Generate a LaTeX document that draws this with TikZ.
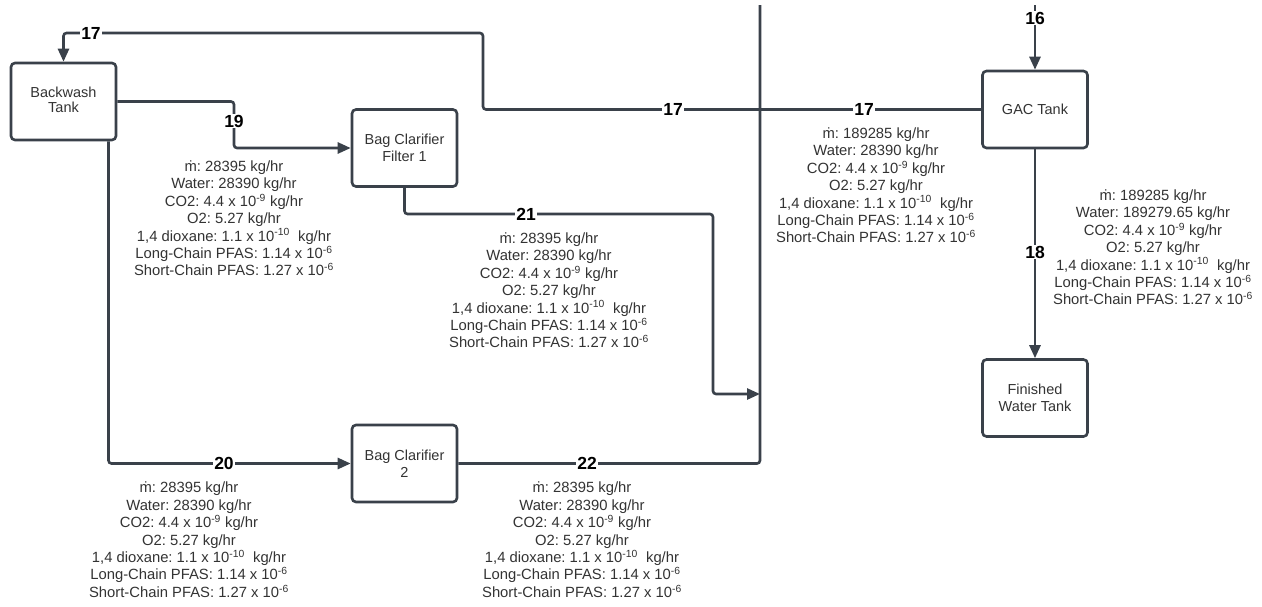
\documentclass[tikz,border=0pt]{standalone}
\usepackage{fontspec}
\setmainfont{Liberation Sans}
\usetikzlibrary{arrows.meta}
\frenchspacing
\definecolor{ln}{HTML}{3A414A}
\definecolor{tx}{HTML}{333333}
\newcommand\streamtext[2]{ṁ: #1 kg/hr\\Water: #2 kg/hr\\CO2: 4.4 x 10\textsuperscript{-9} kg/hr\\O2: 5.27 kg/hr\\1,4 dioxane: 1.1 x 10\textsuperscript{-10}~ kg/hr\\Long-Chain PFAS: 1.14 x 10\textsuperscript{-6}\\Short-Chain PFAS: 1.27 x 10\textsuperscript{-6}}
\begin{document}
\begin{tikzpicture}[x=1pt,y=-1pt,
  box/.style={draw=ln, line width=2.6pt, rounded corners=4pt, minimum width=105pt, minimum height=77pt, inner sep=0pt, align=center, font=\fontsize{14.5}{16.5}\selectfont, text=tx},
  flow/.style={draw=ln, line width=2.6pt, rounded corners=3pt},
  arr/.style={-{Triangle[length=13pt,width=11pt]}},
  info/.style={align=center, font=\fontsize{14.8}{17.4}\selectfont, text=tx, inner sep=0pt, anchor=north},
  num/.style={font=\bfseries\fontsize{17.5}{17.5}\selectfont, fill=white, inner sep=1pt, text=black}]
\useasboundingbox[fill=white] (0,0) rectangle (1262,606);

% units
\node[box] (bw)  at (63.5,101.5) {\raisebox{3pt}{\begin{tabular}{@{}c@{}}Backwash\\[-1pt]Tank\end{tabular}}};
\node[box] (bc1) at (404.5,148)  {Bag Clarifier\\Filter 1};
\node[box] (bc2) at (404.5,463.5) {Bag Clarifier\\2};
\node[box] (gac) at (1035,109.5) {GAC Tank};
\node[box] (fwt) at (1035,398)  {Finished\\Water Tank};

% coordinates
\coordinate (top16) at (1035,5);
\coordinate (top22) at (760,5);
\coordinate (c22) at (760,463.5);
\coordinate (j21) at (760,394);

% connectors
\draw[flow,arr] (gac.west) -- (483,109.5) -- (483,33) -- (bw.north |- 0,33) -- (bw.north);
\draw[flow,arr] (bw.east) -- (234,101.5) -- (234,148) -- (bc1.west);
\draw[flow,arr] ([xshift=45pt]bw.south) -- ([xshift=45pt]bw.south |- bc2.west) -- (bc2.west);
\draw[flow,arr] (bc1.south) -- (404.5,214) -- (713,214) -- (713,394) -- (j21);
\draw[flow] (bc2.east) -- (c22) -- (top22);
\draw[flow,arr] (top16) -- (gac.north);
\draw[flow,arr] (gac.south) -- (fwt.north);

% stream numbers
\node[num] (n17a) at (91,33) {17};
\node[num] (n19)  at (234,121) {19};
\node[num] (n17b) at (673,109.5) {17};
\node[num] (n17c) at (864,109.5) {17};
\node[num] (n16)  at (1035,18) {16};
\node[num] (n21)  at (526,214) {21};
\node[num] (n20)  at (224,463.5) {20};
\node[num] (n22)  at (587,463.5) {22};
\node[num] (n18)  at (1035,252) {18};

% stream data
\node[info] (dA) at (234,160.5) {\streamtext{28395}{28390}};
\node[info] (dB) at (549,232.5) {\streamtext{28395}{28390}};
\node[info] (dC) at (876,127.5) {\streamtext{189285}{28390}};
\node[info] (dD) at (1153,189.5) {\streamtext{189285}{189279.65}};
\node[info] (dE) at (189,482) {\streamtext{28395}{28390}};
\node[info] (dF) at (582,482) {\streamtext{28395}{28390}};
\end{tikzpicture}
\end{document}
